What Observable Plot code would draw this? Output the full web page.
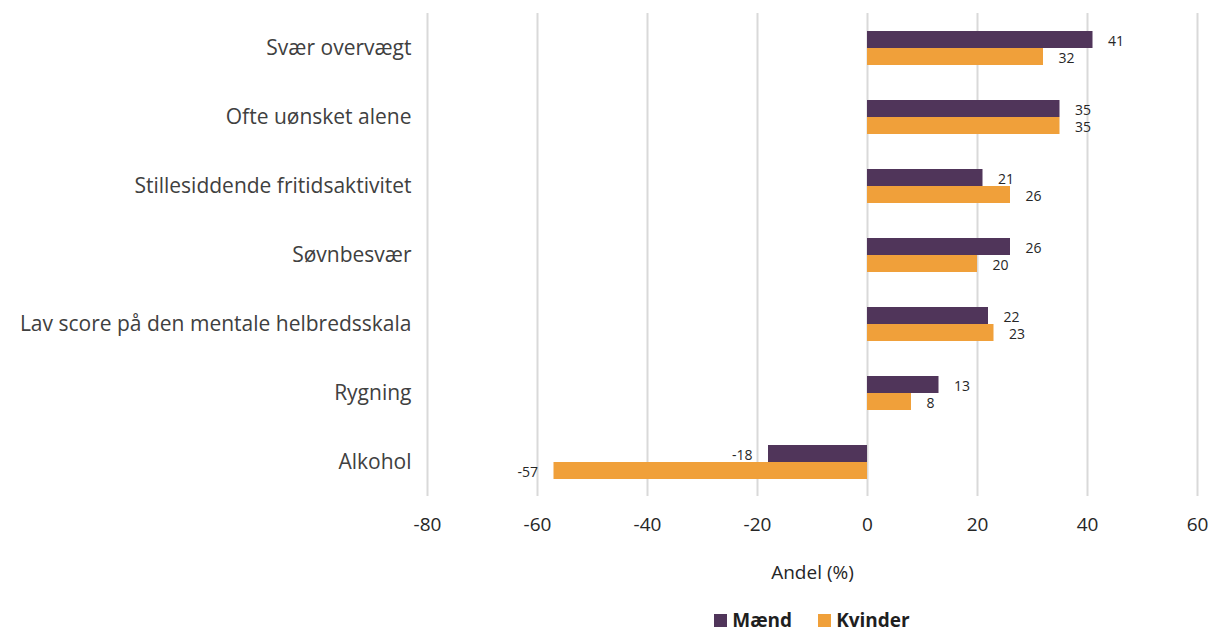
<!DOCTYPE html>
<html><head><meta charset="utf-8">
<script src="https://cdn.jsdelivr.net/npm/d3@7"></script>
<script src="https://cdn.jsdelivr.net/npm/@observablehq/plot@0.6"></script>
<style>
body{margin:0;background:#fff;font-family:"Open Sans",Lato,sans-serif;overflow:hidden}
#chart svg{display:block}
#legend{box-sizing:border-box;width:1212px;padding-left:427px;padding-right:15px;margin-top:15px;display:flex;justify-content:center;gap:26px;font-weight:700;font-size:19px;line-height:18px;color:#1f1f1f}
#legend .item{display:flex;align-items:center;gap:5px}
#legend .sw{width:13px;height:13px;display:inline-block}
</style></head><body>
<div id="chart"></div>
<div id="legend"></div>
<script>
const categories = ["Svær overvægt","Ofte uønsket alene","Stillesiddende fritidsaktivitet","Søvnbesvær","Lav score på den mentale helbredsskala","Rygning","Alkohol"];
const series = ["Mænd","Kvinder"];
const maend = [41,35,21,26,22,13,-18];
const kvinder = [32,35,26,20,23,8,-57];
const xTicks = [-80,-60,-40,-20,0,20,40,60];
const colors = ["#50355a","#f0a03a"];
const axisLabel = "Andel (%)";

const data = categories.flatMap((c,i)=>[
  {category:c, series:series[0], value:maend[i]},
  {category:c, series:series[1], value:kvinder[i]}
]);

const plot = Plot.plot({
  width:1212, height:596,
  marginLeft:427, marginRight:15, marginTop:12, marginBottom:99,
  style:{fontFamily:"'Open Sans', Lato, sans-serif", color:"#262626", background:"#fff"},
  x:{domain:[-80,60]},
  fy:{domain:categories, padding:0, label:null},
  y:{domain:series, paddingInner:0, paddingOuter:0.917, axis:null},
  color:{domain:series, range:colors},
  marks:[
    Plot.ruleX(xTicks,{stroke:"#d9d9d9", strokeWidth:2}),
    Plot.barX(data,{x:"value", y:"series", fy:"category", fill:"series"}),
    Plot.text(data.filter(d=>d.value>=0),{x:"value", y:"series", fy:"category", text:d=>String(d.value), textAnchor:"start", dx:15, dy:2, fontSize:14, fill:"#262626"}),
    Plot.text(data.filter(d=>d.value<0),{x:"value", y:"series", fy:"category", text:d=>String(d.value), textAnchor:"end", dx:-16, dy:2, fontSize:14, fill:"#262626"}),
    Plot.axisFy({anchor:"left", tickSize:0, tickPadding:16, fontSize:21, label:null, fill:"#404040"}),
    Plot.axisX({ticks:xTicks, tickFormat:d=>String(d), tickSize:0, tickPadding:21, fontSize:19, label:axisLabel, labelAnchor:"center", labelArrow:"none", labelOffset:82, fill:"#262626"})
  ]
});
document.getElementById("chart").appendChild(plot);

const legend = document.getElementById("legend");
series.forEach((s,i)=>{
  const it = document.createElement("span");
  it.className = "item";
  const sw = document.createElement("span");
  sw.className = "sw";
  sw.style.background = colors[i];
  const t = document.createElement("span");
  t.textContent = s;
  it.appendChild(sw); it.appendChild(t);
  legend.appendChild(it);
});
</script>
</body></html>
